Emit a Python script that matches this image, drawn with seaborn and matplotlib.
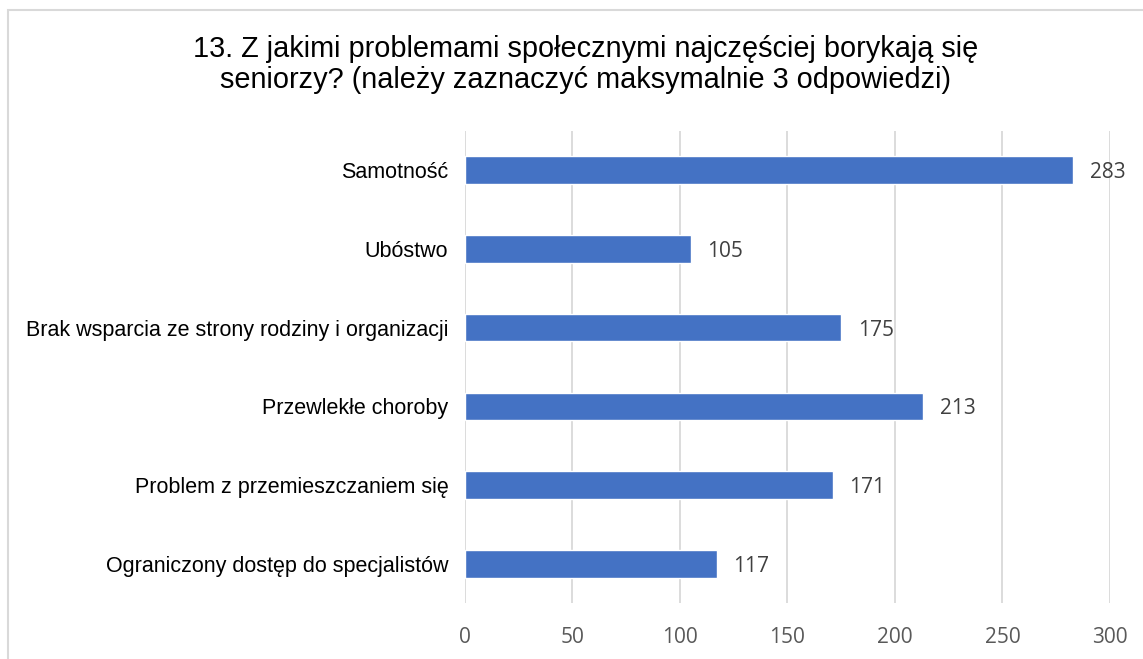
import matplotlib
matplotlib.use("Agg")
import matplotlib.pyplot as plt
import matplotlib.patches as patches
import seaborn as sns
import pandas as pd

# dane z wykresu
categories = [
    "Samotność",
    "Ubóstwo",
    "Brak wsparcia ze strony rodziny i organizacji",
    "Przewlekłe choroby",
    "Problem z przemieszczaniem się",
    "Ograniczony dostęp do specjalistów",
]
counts = [283, 105, 175, 213, 171, 117]
xticks = [0, 50, 100, 150, 200, 250, 300]

df = pd.DataFrame({"problem": categories, "liczba": counts})

sns.set_theme(style="white")
plt.rcParams["font.family"] = ["Liberation Sans", "DejaVu Sans"]

fig = plt.figure(figsize=(11.43, 6.59), dpi=100)
ax = fig.add_axes([0.4068, 0.0844, 0.9711 - 0.4068, 0.8018 - 0.0844])

sns.barplot(data=df, x="liczba", y="problem", orient="h",
            color="#4472C4", saturation=1, width=0.35, ax=ax)

ax.set_xlim(0, 300)
ax.set_xticks(xticks)
ax.set_xticklabels([str(t) for t in xticks], fontsize=15, color="#595959",
                   family=["Open Sans", "DejaVu Sans"])
ax.tick_params(axis="x", length=0, pad=17)
ax.tick_params(axis="y", length=0, pad=12, labelsize=15.5, labelcolor="#000000")
ax.set_xlabel("")
ax.set_ylabel("")
ax.grid(axis="x", color="#d9d9d9", linewidth=1.3)
ax.set_axisbelow(True)
for s in ax.spines.values():
    s.set_visible(False)

for c in ax.containers:
    for t in ax.bar_label(c, labels=[str(v) for v in counts], padding=12,
                          fontsize=15, color="#404040",
                          family=["Open Sans", "DejaVu Sans"]):
        t.set_va("center_baseline")

fig.text(0.512, 0.902,
         "13. Z jakimi problemami społecznymi najczęściej borykają się\n"
         "seniorzy? (należy zaznaczyć maksymalnie 3 odpowiedzi)",
         ha="center", va="center", fontsize=20.8, color="#000000",
         linespacing=1.12)

# ramka obszaru wykresu
border = patches.Rectangle((8 / 1143, -0.1), 1.2, 1.1 - 10 / 659,
                           transform=fig.transFigure, fill=False,
                           edgecolor="#d9d9d9", linewidth=1.5, clip_on=False)
fig.patches.append(border)

fig.savefig("out.png", dpi=100, facecolor="white")
